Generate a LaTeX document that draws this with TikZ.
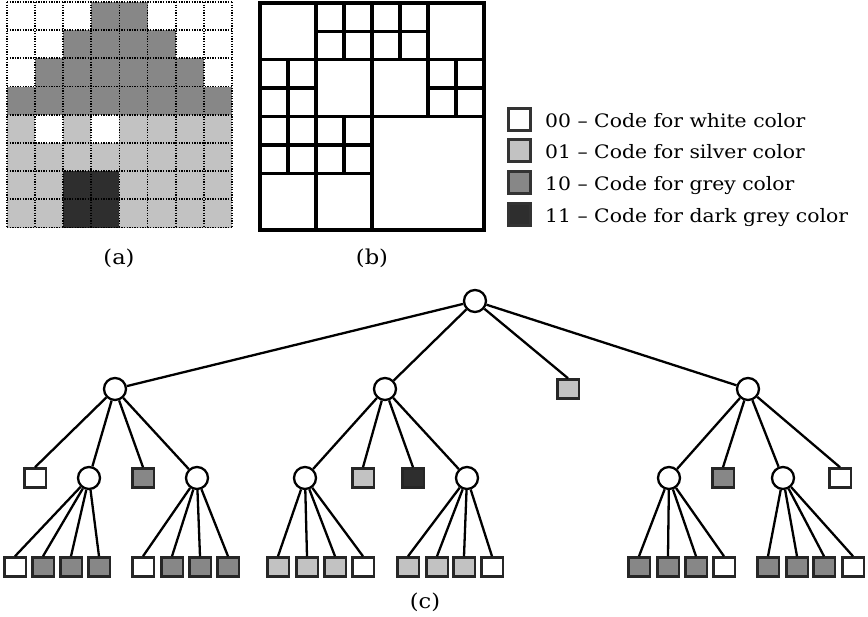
\documentclass[tikz,border=0pt]{standalone}
\usepackage{fontspec}
\newfontfamily\keyfont[FakeStretch=1.1]{DejaVu Serif}
% colour codes
\definecolor{cW}{gray}{1.0}
\definecolor{cS}{gray}{0.76}
\definecolor{cG}{gray}{0.53}
\definecolor{cD}{gray}{0.18}
\begin{document}
\begin{tikzpicture}[x=1pt,y=-1pt,
  inner/.style={circle,draw=black,line width=2.3pt,fill=white,minimum size=22pt,inner sep=0pt},
  leaf/.style={rectangle,draw=black!85,line width=2.5pt,minimum width=21.5pt,minimum height=19pt,inner sep=0pt},
  keybox/.style={rectangle,draw=black!80,line width=2.6pt,minimum size=22.5pt,inner sep=0pt},
  edge/.style={line width=2.3pt},
  gridot/.style={line width=1.8pt,dash pattern=on 1.3pt off 1.3pt,black},
  quadline/.style={line width=3.4pt,line cap=rect},
  lbl/.style={font=\keyfont\fontsize{20.5}{22}\selectfont,inner sep=0pt},
  keytext/.style={font=\keyfont\fontsize{18.5}{20}\selectfont,anchor=base west,inner sep=0pt}]
\useasboundingbox (0,0) rectangle (868,617);

% (a) pixel image
\begin{scope}[x=28.1pt,y=-28.2pt,shift={(7pt,-2pt)}]
  \foreach \r/\row in {0/{W,W,W,G,G,W,W,W},1/{W,W,G,G,G,G,W,W},2/{W,G,G,G,G,G,G,W},
                       3/{G,G,G,G,G,G,G,G},4/{S,W,S,W,S,S,S,S},5/{S,S,S,S,S,S,S,S},
                       6/{S,S,D,D,S,S,S,S},7/{S,S,D,D,S,S,S,S}}
    \foreach \k [count=\i from 0] in \row
      \fill[c\k] (\i,\r) rectangle ++(1,1);
  \foreach \k in {0,...,8} {
    \draw[gridot] (\k,0) -- (\k,8);
    \draw[gridot] (0,\k) -- (8,\k);
  }
\end{scope}

% (b) quadtree subdivision
\begin{scope}[x=28pt,y=-28.4pt,shift={(260pt,-3pt)}]
  \draw[quadline] (0,0) rectangle (8,8);
  \draw[quadline] (4,0) -- (4,8) (0,4) -- (8,4);
  % top-left quadrant
  \draw[quadline] (2,0) -- (2,4) (0,2) -- (4,2);
  \draw[quadline] (3,0) -- (3,2) (2,1) -- (4,1);
  \draw[quadline] (1,2) -- (1,4) (0,3) -- (2,3);
  % top-right quadrant
  \draw[quadline] (6,0) -- (6,4) (4,2) -- (8,2);
  \draw[quadline] (5,0) -- (5,2) (4,1) -- (6,1);
  \draw[quadline] (7,2) -- (7,4) (6,3) -- (8,3);
  % bottom-left quadrant
  \draw[quadline] (2,4) -- (2,8) (0,6) -- (4,6);
  \draw[quadline] (1,4) -- (1,6) (0,5) -- (2,5);
  \draw[quadline] (3,4) -- (3,6) (2,5) -- (4,5);
\end{scope}

% key
\node[keybox,fill=cW] (k0) at (519.5,119.5) {};
\node[keybox,fill=cS] (k1) at (519.5,150.5) {};
\node[keybox,fill=cG] (k2) at (519.5,182.5) {};
\node[keybox,fill=cD] (k3) at (519.5,214.5) {};
\node[keytext] (t0) at (545,128) {00 – Code for white color};
\node[keytext] (t1) at (545,159) {01 – Code for silver color};
\node[keytext] (t2) at (545,191) {10 – Code for grey color};
\node[keytext] (t3) at (545,223) {11 – Code for dark grey color};

\node[lbl] (la) at (119,258) {(a)};
\node[lbl] (lb) at (372,258) {(b)};

% (c) quadtree
\node[inner] (r) at (475,301) {};
\node[inner] (a) at (115,389) {};
\node[inner] (b) at (385,389) {};
\node[leaf,fill=cS] (s) at (568,389) {};
\node[inner] (c) at (748,389) {};

\node[leaf,fill=cW] (a1) at (35,478) {};
\node[inner] (a2) at (89,478) {};
\node[leaf,fill=cG] (a3) at (143,478) {};
\node[inner] (a4) at (197,478) {};
\node[inner] (b1) at (305,478) {};
\node[leaf,fill=cS] (b2) at (363,478) {};
\node[leaf,fill=cD] (b3) at (413,478) {};
\node[inner] (b4) at (467,478) {};
\node[inner] (c1) at (669,478) {};
\node[leaf,fill=cG] (c2) at (723,478) {};
\node[inner] (c3) at (783,478) {};
\node[leaf,fill=cW] (c4) at (840,478) {};

\foreach \u/\v in {r/a,r/b,r/c,a/a2,a/a4,b/b1,b/b4,c/c1,c/c3}
  \draw[edge] (\u) -- (\v);
\foreach \u/\v in {r/s,a/a1,a/a3,b/b2,b/b3,c/c2,c/c4}
  \draw[edge] (\u) -- (\v.north);

\foreach \pp/\lst in {a2/{15/W,43/G,71/G,99/G},a4/{143/W,172/G,200/G,228/G},
                      b1/{278/S,307/S,335/S,363/W},b4/{408/S,437/S,464/S,492/W},
                      c1/{639/G,668/G,696/G,724/W},c3/{768/G,797/G,824/G,853/W}}
  \foreach \x/\k [count=\n] in \lst {
    \node[leaf,fill=c\k] (\pp-\n) at (\x,567) {};
    \draw[edge] (\pp) -- (\pp-\n.north);
  }

\node[lbl] (lc) at (425,602) {(c)};
\end{tikzpicture}
\end{document}
